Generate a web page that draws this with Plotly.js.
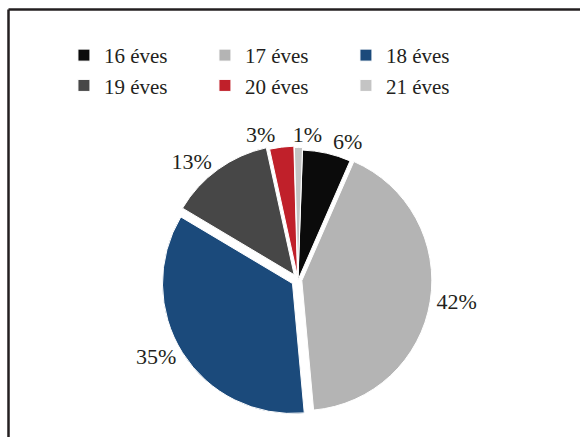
<!DOCTYPE html>
<html>
<head>
<meta charset="utf-8">
<script src="https://cdn.plot.ly/plotly-3.0.1.min.js"></script>
<style>html,body{margin:0;padding:0;background:#fff;}#chart{width:580px;height:437px;}</style>
</head>
<body>
<div id="chart"></div>
<script>
var categories = ["16 éves", "17 éves", "18 éves", "19 éves", "20 éves", "21 éves"];
var values = [6, 42, 35, 13, 3, 1];
var sliceColors = ["#0b0b0b", "#b4b4b4", "#1b4a7b", "#474747", "#c0202a", "#c4c4c4"];
var pulls = [0, 0.03, 0.05, 0.05, 0.03, 0.02];

var serif = "Liberation Serif";
var domain = {x: [0.2784, 0.7491], y: [0.0469, 0.6716]};
// label-only overlay shifted slightly left so the 1% label sits between 3% and 6%
var overlayDomain = {x: [0.2784 - 12 / 580, 0.7491 - 12 / 580], y: [0.0469, 0.6716]};
var labelFont = {family: serif, size: 22, color: "#231f20"};

// main pie: all slices, all labels except the smallest one
var mainPositions = values.map(function (v, i) { return i === values.length - 1 ? "none" : "outside"; });
// transparent overlay pie: carries only the smallest label
var overlayPositions = values.map(function (v, i) { return i === values.length - 1 ? "outside" : "none"; });

var traceMain = {
  type: "pie",
  labels: categories,
  values: values,
  sort: false,
  direction: "clockwise",
  rotation: 2,
  pull: pulls,
  marker: {colors: sliceColors, line: {color: "#ffffff", width: 1}},
  textinfo: "percent",
  texttemplate: "%{percent:.0%}",
  textposition: mainPositions,
  textfont: labelFont,
  outsidetextfont: labelFont,
  hoverinfo: "label+percent",
  domain: domain
};

var traceOverlay = {
  type: "pie",
  labels: categories,
  values: values,
  sort: false,
  direction: "clockwise",
  rotation: 2,
  pull: pulls,
  marker: {colors: values.map(function () { return "rgba(0,0,0,0)"; }), line: {width: 0}},
  textinfo: "percent",
  texttemplate: "%{percent:.0%}",
  textposition: overlayPositions,
  textfont: labelFont,
  outsidetextfont: labelFont,
  showlegend: false,
  hoverinfo: "skip",
  domain: overlayDomain
};

var layout = {
  width: 580,
  height: 437,
  margin: {l: 0, r: 0, t: 0, b: 0},
  paper_bgcolor: "#ffffff",
  font: {family: serif, size: 21, color: "#231f20"},
  showlegend: true,
  legend: {
    orientation: "h",
    x: 0.145, xanchor: "left",
    y: 0.92, yanchor: "top",
    bgcolor: "rgba(0,0,0,0)",
    entrywidth: 96, entrywidthmode: "pixels",
    traceorder: "normal",
    font: {family: serif, size: 21, color: "#231f20"}
  },
  shapes: [
    {type: "line", xref: "paper", yref: "paper", x0: 8.5/580, x1: 8.5/580, y0: 0, y1: 1 - 9.5/437, line: {color: "#231f20", width: 2.5}},
    {type: "line", xref: "paper", yref: "paper", x0: 8.5/580, x1: 1, y0: 1 - 9.5/437, y1: 1 - 9.5/437, line: {color: "#231f20", width: 2.5}}
  ]
};

Plotly.newPlot("chart", [traceMain, traceOverlay], layout, {displayModeBar: false, staticPlot: true});
</script>
</body>
</html>
